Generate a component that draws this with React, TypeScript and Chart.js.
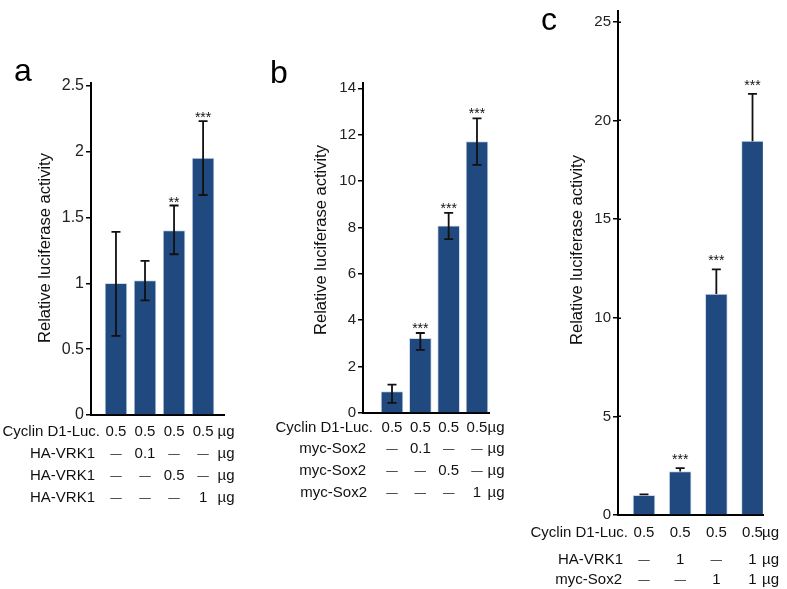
import React, { useEffect, useRef } from 'react';
import { Chart, registerables } from 'chart.js';

Chart.register(...registerables);

const FONT = "'Liberation Sans', Arial, Helvetica, sans-serif";
const BAR_COLOR = '#204a7f';
const BAR_EDGE = '#cfdbea';

// shared group positions (4 conditions per panel)
const groupPositions = [1, 2, 3, 4];

// ---------- Panel a ----------
const aValues = [1.0, 1.02, 1.4, 1.95];
const aErrLow = [0.6, 0.87, 1.22, 1.67];
const aErrHigh = [1.39, 1.17, 1.59, 2.23];
const aStars = ['', '', '**', '***'];
const aTicks = [0, 0.5, 1, 1.5, 2, 2.5];
const aTickLabels = ['0', '0.5', '1', '1.5', '2', '2.5'];
const aRowLabels = ['Cyclin D1-Luc.', 'HA-VRK1', 'HA-VRK1', 'HA-VRK1'];
const aCells = [
  ['0.5', '0.5', '0.5', '0.5'],
  ['—', '0.1', '—', '—'],
  ['—', '—', '0.5', '—'],
  ['—', '—', '—', '1'],
];
const aUnits = ['µg', 'µg', 'µg', 'µg'];

// ---------- Panel b ----------
const bValues = [0.92, 3.22, 8.07, 11.7];
const bErrLow = [0.44, 2.72, 7.5, 10.7];
const bErrHigh = [1.22, 3.45, 8.63, 12.7];
const bStars = ['', '***', '***', '***'];
const bTicks = [0, 2, 4, 6, 8, 10, 12, 14];
const bTickLabels = ['0', '2', '4', '6', '8', '10', '12', '14'];
const bRowLabels = ['Cyclin D1-Luc.', 'myc-Sox2', 'myc-Sox2', 'myc-Sox2'];
const bCells = [
  ['0.5', '0.5', '0.5', '0.5'],
  ['—', '0.1', '—', '—'],
  ['—', '—', '0.5', '—'],
  ['—', '—', '—', '1'],
];
const bUnits = ['µg', 'µg', 'µg', 'µg'];

// ---------- Panel c ----------
const cValues = [1.0, 2.2, 11.2, 18.95];
const cErrLow = [1.0, 2.2, 11.2, 18.95];
const cErrHigh = [1.05, 2.38, 12.45, 21.35];
const cStars = ['', '***', '***', '***'];
const cTicks = [0, 5, 10, 15, 20, 25];
const cTickLabels = ['0', '5', '10', '15', '20', '25'];
const cRowLabels = ['Cyclin D1-Luc.', 'HA-VRK1', 'myc-Sox2'];
const cCells = [
  ['0.5', '0.5', '0.5', '0.5'],
  ['—', '1', '—', '1'],
  ['—', '—', '1', '1'],
];
const cUnits = ['µg', 'µg', 'µg'];

const Y_TITLE = 'Relative luciferase activity';

type PanelCfg = {
  values: number[];
  errLow: number[];
  errHigh: number[];
  stars: string[];
  ticks: number[];
  tickLabels: string[];
  rowLabels: string[];
  cells: string[][];
  units: string[];
  letter: string;
  // layout
  area: { left: number; right: number; top: number; bottom: number };
  xMin: number;
  xMax: number;
  yMax: number;
  tickFont: number;
  letterPos: { x: number; y: number };
  titlePos: { x: number; y: number };
  rowBaselines: number[];
  rowLabelRight: number[];
  unitOffset: number;
  starOffset: number;
  upperOnly: boolean;
  crossTicks: boolean;
};

const W = 787;
const H = 589;
const Y_AXIS_W = 40;

const panels: PanelCfg[] = [
  {
    values: aValues, errLow: aErrLow, errHigh: aErrHigh, stars: aStars,
    ticks: aTicks, tickLabels: aTickLabels, rowLabels: aRowLabels, cells: aCells, units: aUnits,
    letter: 'a',
    area: { left: 91, right: 224, top: 83, bottom: 415 },
    xMin: 0.14, xMax: 4.72, yMax: 2.52, tickFont: 16,
    letterPos: { x: 14, y: 81 }, titlePos: { x: 45, y: 248 },
    rowBaselines: [436, 458, 480, 502], rowLabelRight: [100, 95, 95, 95],
    unitOffset: 23, starOffset: 1, upperOnly: false, crossTicks: false,
  },
  {
    values: bValues, errLow: bErrLow, errHigh: bErrHigh, stars: bStars,
    ticks: bTicks, tickLabels: bTickLabels, rowLabels: bRowLabels, cells: bCells, units: bUnits,
    letter: 'b',
    area: { left: 363, right: 489, top: 82.7, bottom: 413 },
    xMin: -0.024, xMax: 4.424, yMax: 14.24, tickFont: 15,
    letterPos: { x: 270, y: 83 }, titlePos: { x: 321, y: 240 },
    rowBaselines: [432, 453, 475, 497], rowLabelRight: [373, 366, 366, 367],
    unitOffset: 19, starOffset: 0, upperOnly: false, crossTicks: false,
  },
  {
    values: cValues, errLow: cErrLow, errHigh: cErrHigh, stars: cStars,
    ticks: cTicks, tickLabels: cTickLabels, rowLabels: cRowLabels, cells: cCells, units: cUnits,
    letter: 'c',
    area: { left: 618, right: 763, top: 4, bottom: 515 },
    xMin: 0.281, xMax: 4.29, yMax: 25.55, tickFont: 15,
    letterPos: { x: 541, y: 30 }, titlePos: { x: 577, y: 250 },
    rowBaselines: [537, 564, 584], rowLabelRight: [628, 623, 622],
    unitOffset: 18, starOffset: -4, upperOnly: true, crossTicks: true,
  },
];

function makeAnnotator(cfg: PanelCfg) {
  return {
    id: 'annotate' + cfg.letter,
    afterDatasetsDraw(chart: any) {
      const ctx = chart.ctx;
      const yScale = chart.scales.y;
      const meta = chart.getDatasetMeta(0);
      ctx.save();
      ctx.strokeStyle = '#111';
      ctx.lineWidth = 1.8;
      cfg.values.forEach((_, i) => {
        const bar = meta.data[i];
        if (!bar) return;
        const x = bar.x;
        const yHi = yScale.getPixelForValue(cfg.errHigh[i]);
        const yLo = yScale.getPixelForValue(cfg.errLow[i]);
        ctx.beginPath();
        ctx.moveTo(x, yLo);
        ctx.lineTo(x, yHi);
        ctx.moveTo(x - 4.5, yHi);
        ctx.lineTo(x + 4.5, yHi);
        if (!cfg.upperOnly) {
          ctx.moveTo(x - 4.5, yLo);
          ctx.lineTo(x + 4.5, yLo);
        }
        ctx.stroke();
        if (cfg.stars[i]) {
          ctx.fillStyle = '#111';
          ctx.font = `14px ${FONT}`;
          ctx.textAlign = 'center';
          ctx.textBaseline = 'alphabetic';
          ctx.fillText(cfg.stars[i], x, yHi + cfg.starOffset);
        }
      });
      // small inner tick stubs for crossing tick marks
      if (cfg.crossTicks) {
        ctx.strokeStyle = '#000';
        ctx.lineWidth = 1.5;
        ctx.beginPath();
        yScale.ticks.forEach((t: any) => {
          const y = Math.round(yScale.getPixelForValue(t.value)) + 0.25;
          ctx.moveTo(chart.chartArea.left, y);
          ctx.lineTo(chart.chartArea.left + 3, y);
        });
        ctx.stroke();
      }
      ctx.restore();
    },
    afterDraw(chart: any) {
      const ctx = chart.ctx;
      const meta = chart.getDatasetMeta(0);
      ctx.save();
      // panel letter
      ctx.fillStyle = '#000';
      ctx.font = `32px ${FONT}`;
      ctx.textAlign = 'left';
      ctx.textBaseline = 'alphabetic';
      ctx.fillText(cfg.letter, cfg.letterPos.x, cfg.letterPos.y);
      // y title
      ctx.save();
      ctx.translate(cfg.titlePos.x, cfg.titlePos.y);
      ctx.rotate(-Math.PI / 2);
      ctx.font = `16.5px ${FONT}`;
      ctx.fillStyle = '#111';
      ctx.textAlign = 'center';
      ctx.textBaseline = 'middle';
      ctx.fillText(Y_TITLE, 0, 0);
      ctx.restore();
      // condition table
      ctx.fillStyle = '#111';
      ctx.textBaseline = 'alphabetic';
      cfg.rowLabels.forEach((label, r) => {
        const y = cfg.rowBaselines[r];
        ctx.font = `15px ${FONT}`;
        ctx.textAlign = 'right';
        ctx.fillText(label, cfg.rowLabelRight[r], y);
        ctx.textAlign = 'center';
        cfg.cells[r].forEach((cell, c) => {
          const bar = meta.data[c];
          if (!bar) return;
          if (cell === '—') {
            ctx.font = `11.5px ${FONT}`;
            ctx.fillText(cell, bar.x, y - 1);
          } else {
            ctx.font = `15px ${FONT}`;
            ctx.fillText(cell, bar.x, y);
          }
        });
        ctx.font = `15px ${FONT}`;
        const last = meta.data[meta.data.length - 1];
        ctx.fillText(cfg.units[r], last.x + cfg.unitOffset, y);
      });
      ctx.restore();
    },
  };
}

function Panel({ cfg }: { cfg: PanelCfg }) {
  const ref = useRef<HTMLCanvasElement | null>(null);
  useEffect(() => {
    const canvas = ref.current;
    if (!canvas) return;
    const chart = new Chart(canvas, {
      type: 'bar',
      data: {
        datasets: [
          {
            data: cfg.values.map((v, i) => ({ x: groupPositions[i], y: v })),
            backgroundColor: BAR_COLOR,
            borderColor: BAR_EDGE,
            borderWidth: 1,
            barThickness: 22,
          } as any,
        ],
      },
      options: {
        responsive: false,
        animation: false,
        devicePixelRatio: 1,
        events: [],
        layout: {
          padding: {
            left: cfg.area.left - Y_AXIS_W,
            right: W - cfg.area.right,
            top: cfg.area.top,
            bottom: H - cfg.area.bottom,
          },
        },
        plugins: {
          legend: { display: false },
          tooltip: { enabled: false },
          title: { display: false },
        },
        scales: {
          x: {
            type: 'linear',
            min: cfg.xMin,
            max: cfg.xMax,
            offset: false,
            ticks: { display: false },
            grid: { display: true, drawOnChartArea: false, drawTicks: false, color: 'rgba(0,0,0,0)' },
            border: { display: true, color: '#000', width: 2 },
            afterFit: (s: any) => { s.height = 0; },
          },
          y: {
            type: 'linear',
            min: 0,
            max: cfg.yMax,
            afterBuildTicks: (s: any) => { s.ticks = cfg.ticks.map((v) => ({ value: v })); },
            ticks: {
              autoSkip: false,
              padding: 2,
              color: '#222',
              font: { family: FONT, size: cfg.tickFont },
              callback: (v: any) => {
                const idx = cfg.ticks.indexOf(Number(v));
                return idx >= 0 ? cfg.tickLabels[idx] : '';
              },
            },
            grid: { display: true, drawOnChartArea: false, drawTicks: true, tickLength: 5, color: '#000', lineWidth: 1.5 },
            border: { display: true, color: '#000', width: 2 },
            afterFit: (s: any) => { s.width = Y_AXIS_W; },
          },
        },
      } as any,
      plugins: [makeAnnotator(cfg)],
    });
    return () => chart.destroy();
  }, [cfg]);
  return (
    <canvas
      ref={ref}
      width={W}
      height={H}
      style={{ position: 'absolute', left: 0, top: 0, width: W, height: H }}
    />
  );
}

export default function App() {
  return (
    <div style={{ position: 'fixed', left: 0, top: 0, width: W, height: H, background: '#fff' }}>
      {panels.map((p) => (
        <Panel key={p.letter} cfg={p} />
      ))}
    </div>
  );
}
